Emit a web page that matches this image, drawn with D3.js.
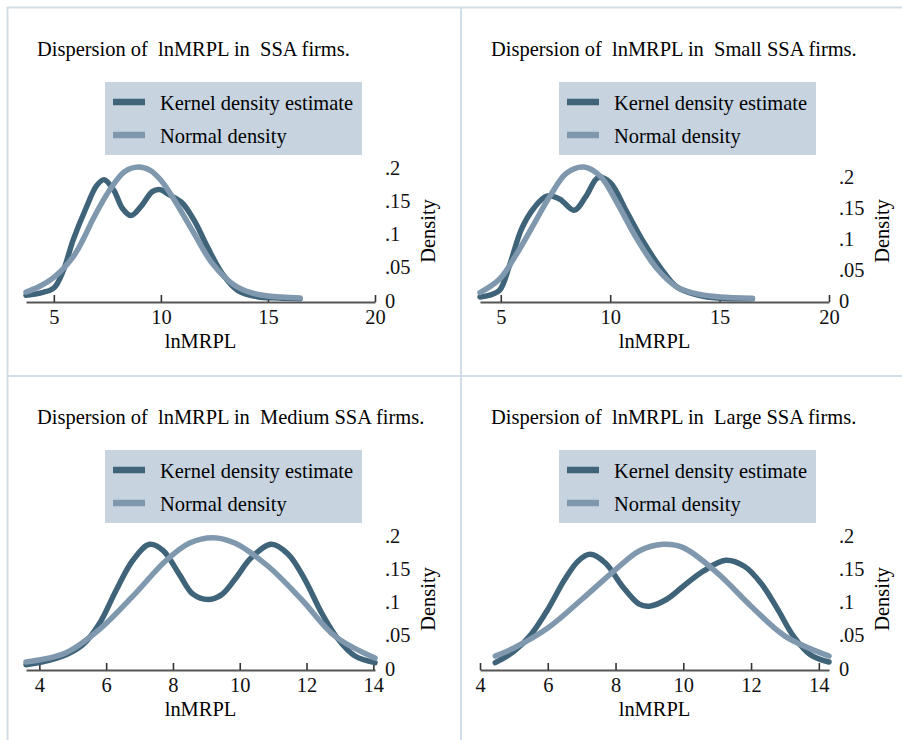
<!DOCTYPE html>
<html>
<head>
<meta charset="utf-8">
<script src="https://cdn.jsdelivr.net/npm/d3@7"></script>
<style>
  body { margin: 0; background: #fff; }
  svg { display: block; }
</style>
</head>
<body>
<div id="chart"></div>
<script>
// Titles of the four panels
const titles = [
  "Dispersion of  lnMRPL in  SSA firms.",
  "Dispersion of  lnMRPL in  Small SSA firms.",
  "Dispersion of  lnMRPL in  Medium SSA firms.",
  "Dispersion of  lnMRPL in  Large SSA firms.",
];
const legendLabels = ["Kernel density estimate", "Normal density"];

// x tick values per panel
const xTicksTop = [5, 10, 15, 20];
const xTicksBottom = [4, 6, 8, 10, 12, 14];
const yTicks = [0, 0.05, 0.1, 0.15, 0.2];
const yTickLabels = ["0", ".05", ".1", ".15", ".2"];

// [lnMRPL, density]
const kdeAll = [[3.7,0.007],[4.3,0.010],[5.0,0.018],[5.45,0.045],[5.9,0.09],[6.5,0.138],[7.0,0.172],[7.35,0.181],[7.8,0.165],[8.2,0.138],[8.6,0.127],[9.1,0.142],[9.6,0.163],[9.95,0.166],[10.4,0.158],[11.0,0.146],[11.6,0.117],[12.2,0.078],[12.9,0.038],[13.6,0.014],[14.5,0.005],[15.5,0.003],[16.5,0.002]];
const normalAll = [[3.7,0.012],[4.3,0.02],[5.0,0.034],[5.9,0.065],[6.4,0.093],[6.85,0.123],[7.6,0.165],[8.3,0.193],[8.95,0.2],[9.5,0.195],[10.0,0.18],[10.6,0.152],[11.5,0.103],[12.4,0.055],[13.4,0.023],[14.2,0.011],[15.0,0.006],[16.5,0.003]];

const kdeSmall = [[4.05,0.005],[4.5,0.008],[4.95,0.016],[5.4,0.056],[5.95,0.115],[6.5,0.148],[7.1,0.168],[7.7,0.163],[8.35,0.145],[8.9,0.168],[9.45,0.198],[10.0,0.19],[10.75,0.143],[11.5,0.095],[12.3,0.052],[13.05,0.021],[14.1,0.007],[15.0,0.003],[16.5,0.002]];
const normalSmall = [[4.05,0.012],[4.95,0.034],[5.7,0.073],[6.5,0.122],[7.25,0.168],[8.0,0.205],[8.8,0.215],[9.55,0.2],[10.3,0.158],[11.2,0.1],[12.15,0.05],[13.05,0.021],[14.1,0.009],[15.0,0.005],[16.5,0.003]];

const kdeMedium = [[3.6,0.005],[4.0,0.008],[4.8,0.02],[5.3,0.035],[5.8,0.067],[6.3,0.117],[6.8,0.162],[7.3,0.186],[7.7,0.177],[8.2,0.14],[8.6,0.111],[9.05,0.103],[9.45,0.11],[9.85,0.133],[10.35,0.166],[10.95,0.186],[11.45,0.171],[11.95,0.133],[12.45,0.083],[12.95,0.043],[13.45,0.018],[14.05,0.008]];
const normalMedium = [[3.6,0.009],[4.8,0.023],[5.8,0.058],[6.8,0.108],[7.8,0.162],[8.5,0.188],[9.2,0.196],[9.85,0.188],[10.85,0.153],[11.85,0.103],[12.85,0.048],[14.05,0.015]];

const kdeLarge = [[4.45,0.008],[5.0,0.025],[5.5,0.05],[6.0,0.088],[6.5,0.133],[6.9,0.161],[7.25,0.171],[7.7,0.158],[8.2,0.123],[8.7,0.096],[9.0,0.093],[9.5,0.103],[10.0,0.123],[10.6,0.146],[11.25,0.162],[11.8,0.153],[12.3,0.127],[12.8,0.087],[13.25,0.048],[13.75,0.02],[14.3,0.009]];
const normalLarge = [[4.45,0.018],[5.0,0.03],[6.0,0.06],[7.0,0.103],[8.0,0.148],[8.7,0.176],[9.4,0.186],[10.0,0.181],[11.0,0.143],[12.0,0.093],[13.0,0.048],[14.3,0.018]];

const panels = [
  { title: titles[0], kde: kdeAll, normal: normalAll, ticks: xTicksTop },
  { title: titles[1], kde: kdeSmall, normal: normalSmall, ticks: xTicksTop },
  { title: titles[2], kde: kdeMedium, normal: normalMedium, ticks: xTicksBottom },
  { title: titles[3], kde: kdeLarge, normal: normalLarge, ticks: xTicksBottom },
];

const width = 902;
const height = 740;
const font = "'Liberation Serif', 'Times New Roman', serif";
const fontSize = 22;
const squeeze = 0.93; // the original text is a bit narrow
const darkColor = "#3f6479";
const lightColor = "#7f98ae";
const borderColor = "#d3dde8";

const svg = d3
  .select("#chart")
  .append("svg")
  .attr("width", width)
  .attr("height", height);

svg.append("rect").attr("width", width).attr("height", height).attr("fill", "#fff");

// Panel grid lines
const grid = svg.append("g").attr("stroke", borderColor).attr("stroke-width", 2);
grid.append("line").attr("x1", 7).attr("x2", width).attr("y1", 7.5).attr("y2", 7.5);
grid.append("line").attr("x1", 7).attr("x2", width).attr("y1", 376).attr("y2", 376);
grid.append("line").attr("x1", 7.5).attr("x2", 7.5).attr("y1", 7).attr("y2", height);
grid.append("line").attr("x1", 461).attr("x2", 461).attr("y1", 7).attr("y2", height);

const origins = [[7, 8], [461, 8], [7, 376], [461, 376]];

// text placed by transform so it can be narrowed
const addText = (root, x, y, str, extra = "") =>
  root
    .append("text")
    .attr("transform", `translate(${x},${y}) ${extra} scale(${squeeze},1)`)
    .style("white-space", "pre")
    .text(str);

const drawPanel = (root, p) => {
  const all = p.kde.concat(p.normal);
  const xMin = Math.min(d3.min(all, (d) => d[0]), p.ticks[0]);
  const xMax = Math.max(d3.max(all, (d) => d[0]), p.ticks[p.ticks.length - 1]);
  const yMax = Math.max(0.2, d3.max(all, (d) => d[1]));

  const x = d3.scaleLinear().domain([xMin, xMax]).range([19, 368]);
  const y = d3.scaleLinear().domain([0, yMax]).range([292, 159]);

  // Title
  addText(root, 30, 48, p.title);

  // Legend
  const legend = root.append("g");
  legend
    .append("rect")
    .attr("x", 98)
    .attr("y", 74)
    .attr("width", 257)
    .attr("height", 73)
    .attr("fill", "#c7d4e0");
  [darkColor, lightColor].forEach((c, i) => {
    legend
      .append("line")
      .attr("x1", 106)
      .attr("x2", 138)
      .attr("y1", 94 + i * 33)
      .attr("y2", 94 + i * 33)
      .attr("stroke", c)
      .attr("stroke-width", 6.5);
    addText(legend, 153, 101.5 + i * 33, legendLabels[i]);
  });

  // x axis, ticks pointing up
  const xAxis = root
    .append("g")
    .attr("transform", "translate(0,294)")
    .call(d3.axisBottom(x).tickValues(p.ticks).tickSizeInner(-7).tickSizeOuter(0).tickPadding(6.5).tickFormat(d3.format("d")));
  xAxis.select(".domain").attr("stroke", "#555").attr("stroke-width", 2);
  xAxis.selectAll(".tick line").attr("stroke", "#333").attr("stroke-width", 1.6);
  xAxis.selectAll("text").attr("fill", "#111").attr("transform", `scale(${squeeze},1)`);

  addText(root, (x.range()[0] + x.range()[1]) / 2, 339.5, "lnMRPL").attr("text-anchor", "middle");

  // y axis on the right, labels only
  const yAxis = root
    .append("g")
    .attr("transform", "translate(368,0)")
    .call(d3.axisRight(y).tickValues(yTicks).tickSize(0).tickPadding(10 / squeeze).tickFormat((d, i) => yTickLabels[i]));
  yAxis.select(".domain").remove();
  yAxis.selectAll("text").attr("fill", "#111").attr("transform", `scale(${squeeze},1)`);

  addText(root, 420, 223, "Density", "rotate(-90)")
    .attr("text-anchor", "middle")
    .attr("dy", "0.35em");

  root.selectAll("text").attr("font-family", font).attr("font-size", fontSize);
  xAxis.attr("font-family", font).attr("font-size", fontSize);
  yAxis.attr("font-family", font).attr("font-size", fontSize);

  const line = d3
    .line()
    .x((d) => x(d[0]))
    .y((d) => y(d[1]))
    .curve(d3.curveCatmullRom.alpha(0.5));

  // Kernel density first, normal on top
  [[p.kde, darkColor], [p.normal, lightColor]].forEach(([data, c]) => {
    root
      .append("path")
      .datum(data)
      .attr("d", line)
      .attr("fill", "none")
      .attr("stroke", c)
      .attr("stroke-width", 5.5)
      .attr("stroke-linecap", "round")
      .attr("stroke-linejoin", "round");
  });
};

panels.forEach((p, i) => {
  const root = svg
    .append("g")
    .attr("transform", `translate(${origins[i][0]}, ${origins[i][1]})`);
  drawPanel(root, p);
});
</script>
</body>
</html>
